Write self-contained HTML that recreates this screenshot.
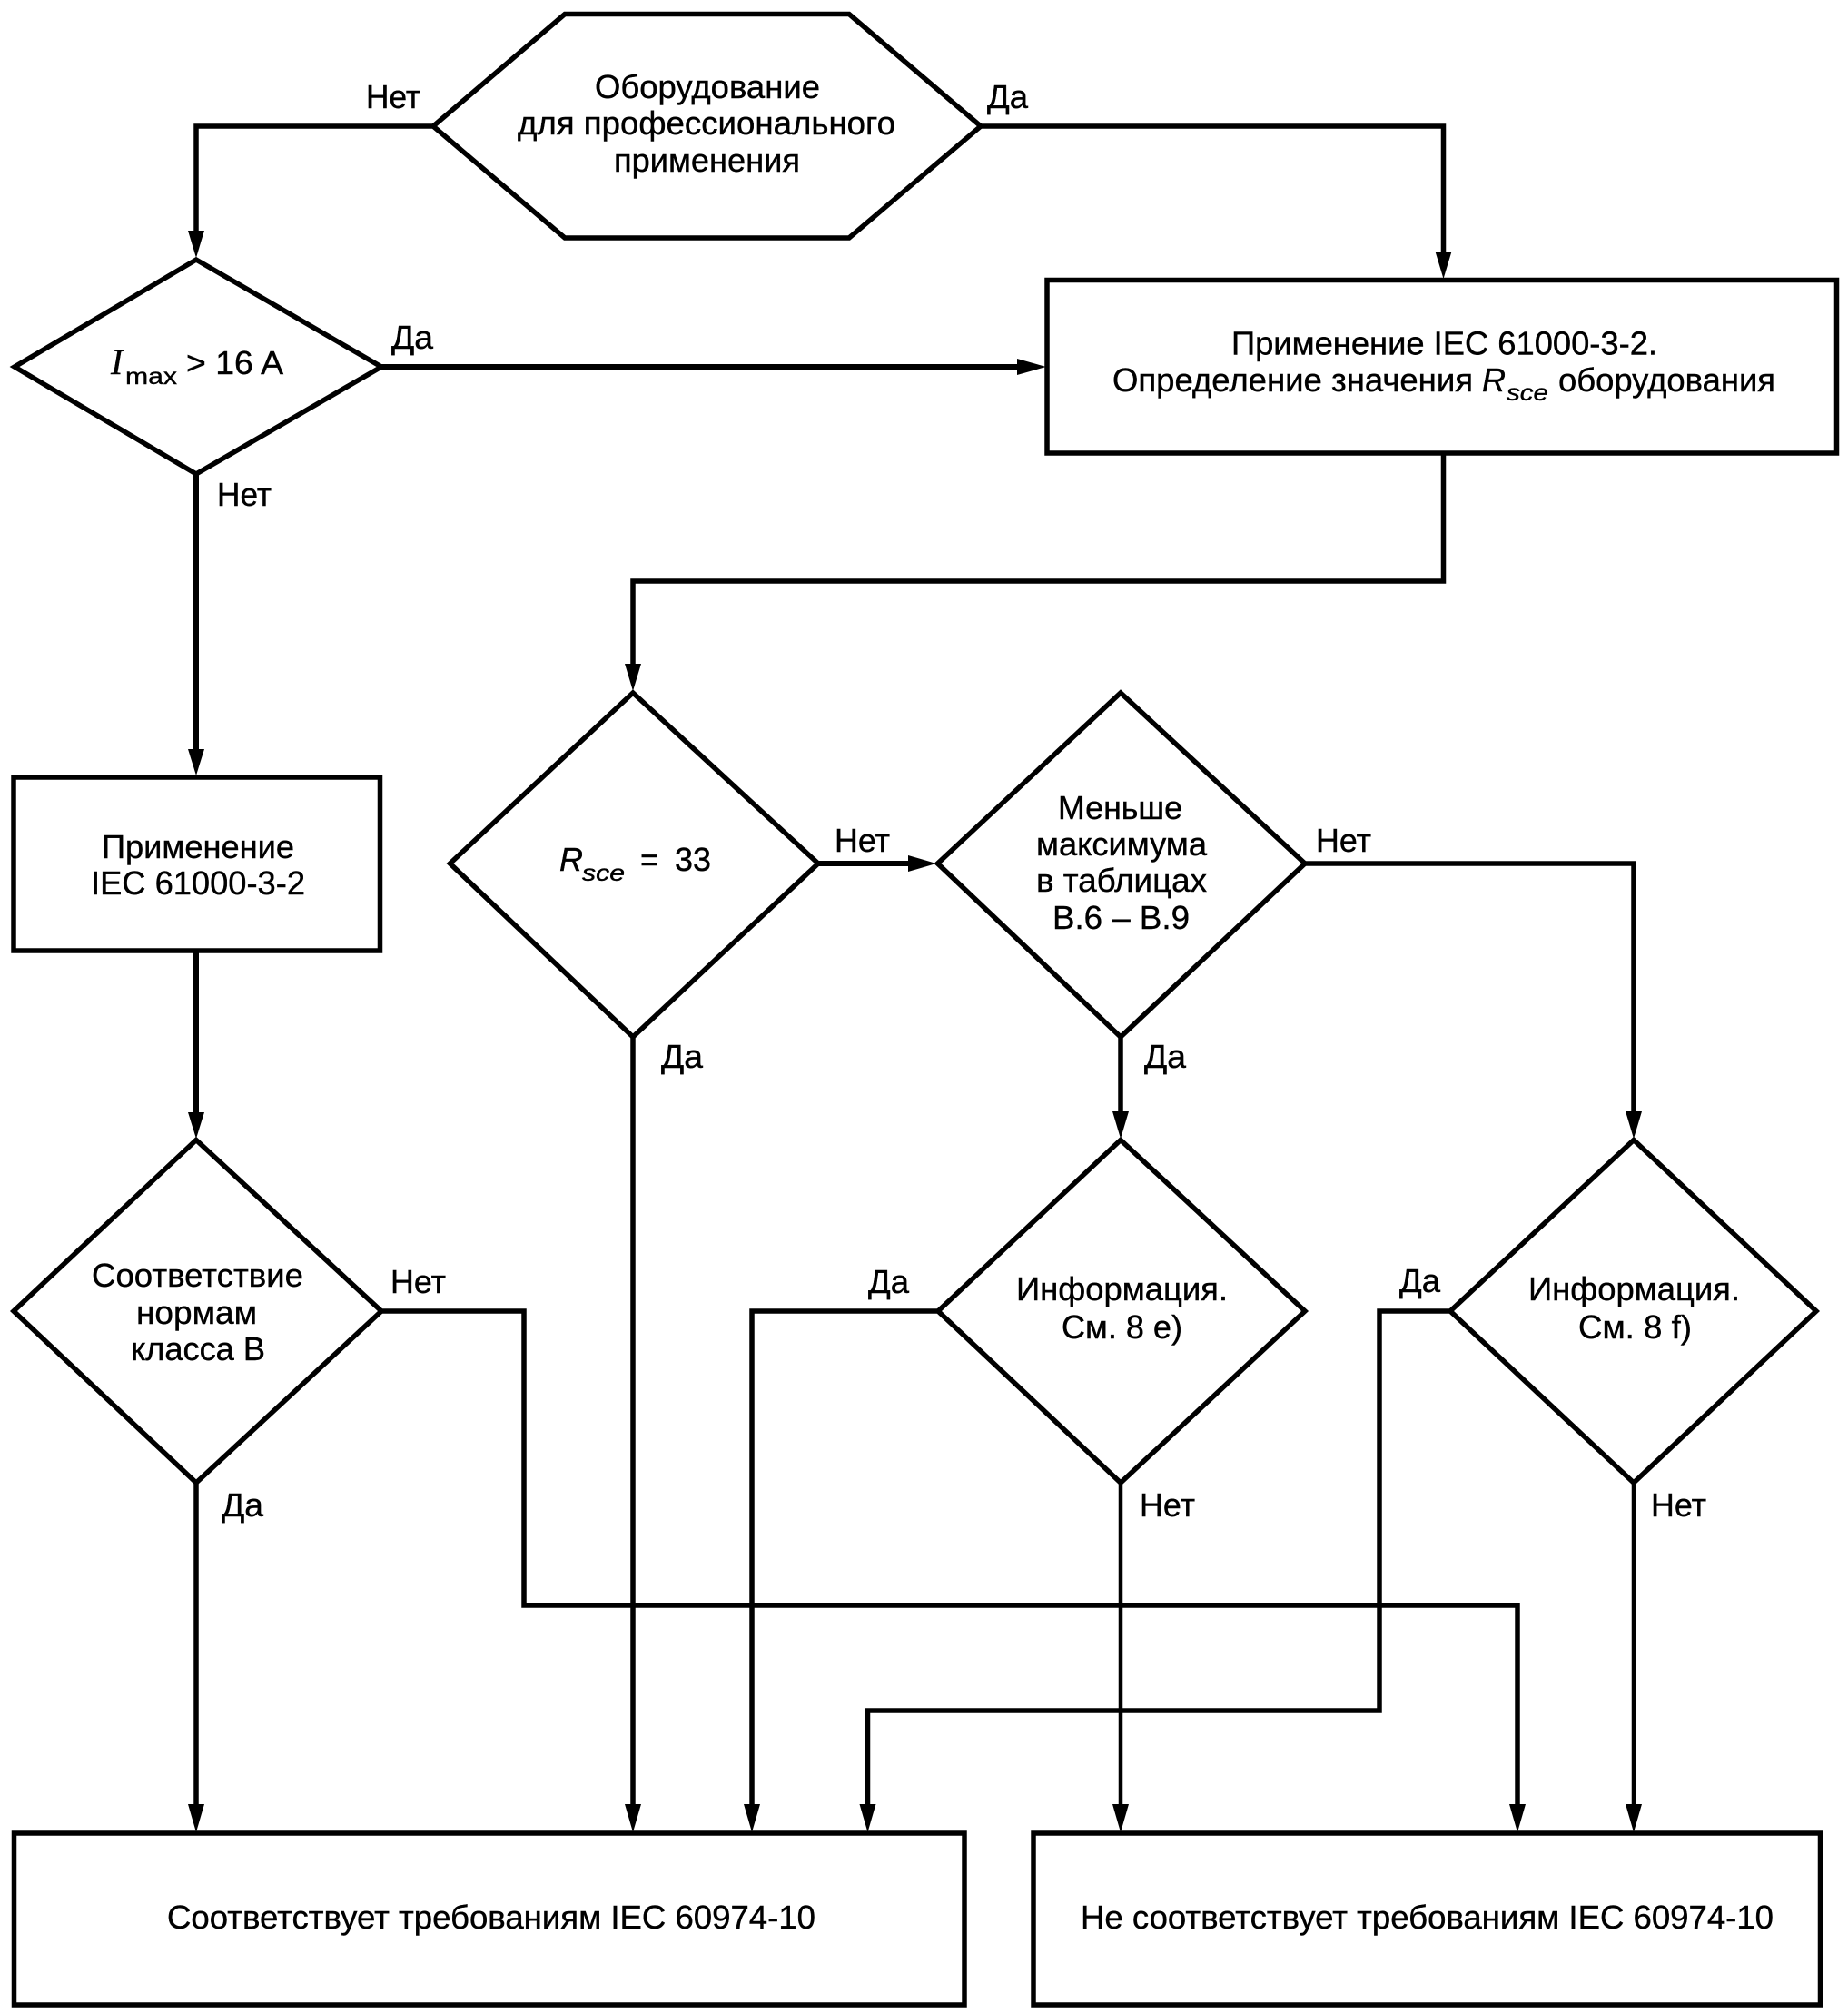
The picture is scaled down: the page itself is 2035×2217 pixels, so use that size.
<!DOCTYPE html>
<html><head><meta charset="utf-8"><style>
html,body{margin:0;padding:0;background:#fff}
svg{display:block}
text{font-family:"Liberation Sans",sans-serif;font-size:36px;fill:#000;stroke:#000;stroke-width:.4px}
.i{font-style:italic}
.s{font-size:25px}
</style></head><body>
<svg width="2035" height="2217" viewBox="0 0 2035 2217" xmlns="http://www.w3.org/2000/svg">
<g fill="#fff" stroke="#000" stroke-width="5.5" stroke-linejoin="miter">
<polygon points="477,139 622,15.5 935,15.5 1080,139 935,262 622,262"/>
<polygon points="16,404 216,286 420,404 216,522"/>
<rect x="1153" y="308.5" width="869.5" height="190.5"/>
<rect x="15" y="856" width="403.5" height="191"/>
<polygon points="495.5,951 697,763 901,951 697,1142"/>
<polygon points="1032.5,951 1234,763 1437,951 1234,1142"/>
<polygon points="15,1444 216,1255.5 420,1444 216,1633"/>
<polygon points="1033,1444 1234,1255.5 1437,1444 1234,1633"/>
<polygon points="1597,1444 1799,1255.5 2000,1444 1799,1633"/>
<rect x="15.5" y="2019" width="1046.5" height="189"/>
<rect x="1138" y="2019" width="866.5" height="189"/>
</g>
<g fill="none" stroke="#000" stroke-width="5.5">
<path d="M477,139H216V260"/>
<path d="M1080,139H1589.5V280"/>
<path d="M420,404H1125" stroke-width="6"/>
<path d="M1589.5,499V640H697V735"/>
<path d="M216,522V830" stroke-width="6"/>
<path d="M216,1047V1230" stroke-width="6"/>
<path d="M216,1633V1990"/>
<path d="M697,1142V1990"/>
<path d="M901,951H1005" stroke-width="6"/>
<path d="M1234,1142V1230"/>
<path d="M1437,951H1799V1230"/>
<path d="M420,1444H577V1768H1671V1990"/>
<path d="M1033,1444H828V1990"/>
<path d="M1597,1444H1519V1884H955.5V1990"/>
<path d="M1234,1633V1990" stroke-width="4.5"/>
<path d="M1799,1633V1990" stroke-width="4.5"/>
</g>
<g fill="#000">
<polygon points="207,254 225,254 216,284"/>
<polygon points="1580.5,277 1598.5,277 1589.5,307"/>
<polygon points="1120,395 1120,413 1152,404"/>
<polygon points="688,731 706,731 697,761"/>
<polygon points="207,825 225,825 216,854"/>
<polygon points="207,1225 225,1225 216,1254"/>
<polygon points="1000,942 1000,960 1031,951"/>
<polygon points="1225,1224 1243,1224 1234,1254"/>
<polygon points="1790,1224 1808,1224 1799,1254"/>
<polygon points="207,1987 225,1987 216,2018"/>
<polygon points="688,1987 706,1987 697,2018"/>
<polygon points="819,1987 837,1987 828,2018"/>
<polygon points="946.5,1987 964.5,1987 955.5,2018"/>
<polygon points="1225,1987 1243,1987 1234,2018"/>
<polygon points="1662,1987 1680,1987 1671,2018"/>
<polygon points="1790,1987 1808,1987 1799,2018"/>
</g>
<text x="655" y="108" textLength="248" lengthAdjust="spacingAndGlyphs">Оборудование</text>
<text x="570" y="148" textLength="416" lengthAdjust="spacingAndGlyphs">для профессионального</text>
<text x="676" y="189" textLength="205" lengthAdjust="spacingAndGlyphs">применения</text>
<text x="403" y="119" textLength="60" lengthAdjust="spacingAndGlyphs">Нет</text>
<text x="1087" y="119" textLength="45" lengthAdjust="spacingAndGlyphs">Да</text>
<text x="431" y="384" textLength="46" lengthAdjust="spacingAndGlyphs">Да</text>
<text x="239" y="557" textLength="60" lengthAdjust="spacingAndGlyphs">Нет</text>
<text x="122" y="412" style="font-family:'Liberation Serif',serif;font-size:40px" class="i">I</text>
<text x="138" y="423" class="s" textLength="57" lengthAdjust="spacingAndGlyphs">max</text>
<text x="205" y="412" textLength="107" lengthAdjust="spacingAndGlyphs">&gt; 16 A</text>
<text x="1356" y="390.5" textLength="469" lengthAdjust="spacingAndGlyphs">Применение IEC 61000-3-2.</text>
<text x="1225" y="431" textLength="397" lengthAdjust="spacingAndGlyphs">Определение значения</text>
<text x="1632" y="431" class="i">R</text>
<text x="1659" y="441" class="i s" textLength="46" lengthAdjust="spacingAndGlyphs">sce</text>
<text x="1716" y="431" textLength="239" lengthAdjust="spacingAndGlyphs">оборудования</text>
<text x="112" y="945" textLength="212" lengthAdjust="spacingAndGlyphs">Применение</text>
<text x="100" y="985" textLength="236" lengthAdjust="spacingAndGlyphs">IEC 61000-3-2</text>
<text x="616" y="959" class="i">R</text>
<text x="641" y="970" class="i s" textLength="47" lengthAdjust="spacingAndGlyphs">sce</text>
<text x="705" y="959" textLength="20" lengthAdjust="spacingAndGlyphs">=</text>
<text x="743" y="959" textLength="40" lengthAdjust="spacingAndGlyphs">33</text>
<text x="919" y="938" textLength="61" lengthAdjust="spacingAndGlyphs">Нет</text>
<text x="1165" y="902" textLength="137" lengthAdjust="spacingAndGlyphs">Меньше</text>
<text x="1141" y="942" textLength="188" lengthAdjust="spacingAndGlyphs">максимума</text>
<text x="1141" y="982" textLength="188" lengthAdjust="spacingAndGlyphs">в таблицах</text>
<text x="1159" y="1023" textLength="151" lengthAdjust="spacingAndGlyphs">В.6 – В.9</text>
<text x="1449" y="938" textLength="61" lengthAdjust="spacingAndGlyphs">Нет</text>
<text x="728" y="1176" textLength="46" lengthAdjust="spacingAndGlyphs">Да</text>
<text x="1260" y="1176" textLength="46" lengthAdjust="spacingAndGlyphs">Да</text>
<text x="101" y="1417" textLength="233" lengthAdjust="spacingAndGlyphs">Соответствие</text>
<text x="150" y="1458" textLength="133" lengthAdjust="spacingAndGlyphs">нормам</text>
<text x="144" y="1498" textLength="148" lengthAdjust="spacingAndGlyphs">класса В</text>
<text x="430" y="1424" textLength="61" lengthAdjust="spacingAndGlyphs">Нет</text>
<text x="244" y="1670" textLength="46" lengthAdjust="spacingAndGlyphs">Да</text>
<text x="956" y="1424" textLength="45" lengthAdjust="spacingAndGlyphs">Да</text>
<text x="1119" y="1432" textLength="233" lengthAdjust="spacingAndGlyphs">Информация.</text>
<text x="1169" y="1474" textLength="133" lengthAdjust="spacingAndGlyphs">См. 8 е)</text>
<text x="1541" y="1423" textLength="45" lengthAdjust="spacingAndGlyphs">Да</text>
<text x="1683" y="1432" textLength="233" lengthAdjust="spacingAndGlyphs">Информация.</text>
<text x="1738" y="1474" textLength="125" lengthAdjust="spacingAndGlyphs">См. 8 f)</text>
<text x="1255" y="1670" textLength="61" lengthAdjust="spacingAndGlyphs">Нет</text>
<text x="1818" y="1670" textLength="61" lengthAdjust="spacingAndGlyphs">Нет</text>
<text x="184" y="2124" textLength="714" lengthAdjust="spacingAndGlyphs">Соответствует требованиям IEC 60974-10</text>
<text x="1190" y="2124" textLength="763" lengthAdjust="spacingAndGlyphs">Не соответствует требованиям IEC 60974-10</text>
</svg>
</body></html>
